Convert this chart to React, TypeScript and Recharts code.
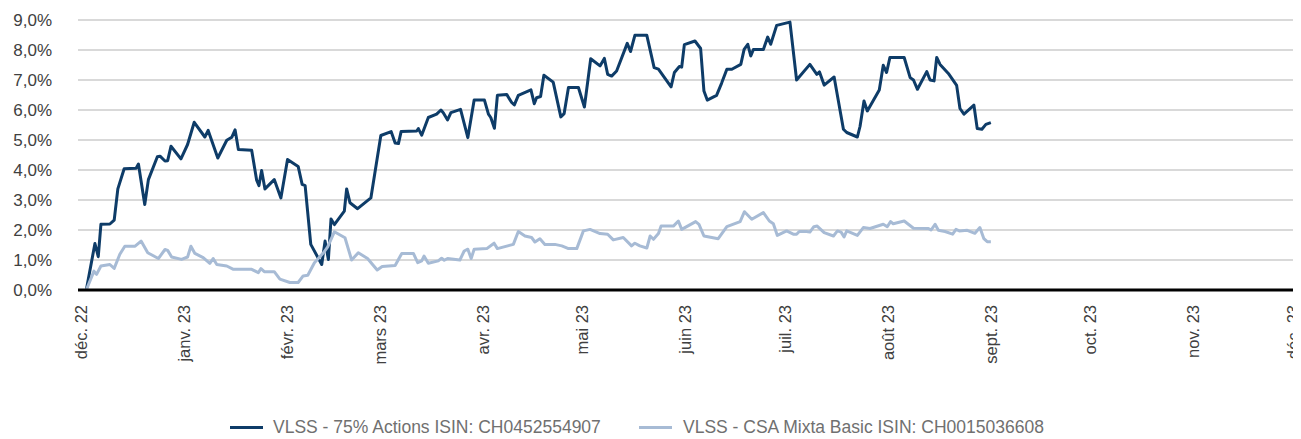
import React from 'react';
import { LineChart, Line, XAxis, YAxis, CartesianGrid, Legend } from 'recharts';

// days since 1 Dec 2022
const monthTicks = [0, 31, 62, 90, 121, 151, 182, 212, 243, 274, 304, 335, 365];
const monthLabels = ['déc. 22', 'janv. 23', 'févr. 23', 'mars 23', 'avr. 23', 'mai 23', 'juin 23', 'juil. 23', 'août 23', 'sept. 23', 'oct. 23', 'nov. 23', 'déc. 23'];
const yTicks = [0, 1, 2, 3, 4, 5, 6, 7, 8, 9];

const seriesNames = ['VLSS - 75% Actions ISIN: CH0452554907', 'VLSS - CSA Mixta Basic ISIN: CH0015036608'];

const actionsDays = [
  1.3, 3.9, 4.9, 5.7, 8.4, 9.7, 10.8, 12.7, 16.3, 17.0,
  18.9, 20.0, 22.7, 23.5, 25.0, 25.8, 26.8, 29.8, 31.8, 33.8,
  37.0, 38.0, 40.9, 43.6, 45.1, 46.1, 47.1, 51.1, 52.6, 53.3,
  54.1, 55.1, 57.9, 59.9, 61.9, 65.1, 66.3, 67.2, 68.9, 72.2,
  73.2, 74.2, 75.0, 76.0, 79.0, 79.7, 80.7, 83.0, 87.0, 90.0,
  93.1, 94.3, 95.3, 96.1, 100.8, 101.3, 102.3, 104.3, 106.8, 108.1,
  108.8, 110.1, 111.1, 114.0, 116.2, 118.1, 121.2, 122.4, 123.1, 124.2,
  125.1, 127.9, 129.4, 130.2, 131.4, 135.2, 136.2, 136.9, 138.1, 139.1,
  141.9, 144.2, 145.2, 146.5, 149.5, 151.3, 153.2, 156.0, 157.3, 158.3,
  159.5, 161.0, 164.2, 165.2, 166.5, 170.1, 172.3, 173.6, 177.4, 178.4,
  179.9, 180.6, 181.4, 184.6, 186.3, 187.3, 188.3, 191.1, 192.6, 194.2,
  195.7, 198.4, 199.4, 200.5, 201.4, 202.2, 205.2, 206.5, 207.4, 209.2,
  213.2, 215.2, 219.2, 221.3, 222.1, 223.5, 226.5, 229.3, 230.3, 233.5,
  234.3, 235.5, 236.5, 240.1, 241.3, 242.3, 243.3, 247.6, 249.4, 250.4,
  251.6, 254.4, 255.4, 256.6, 257.4, 258.4, 260.9, 263.4, 264.4, 265.6,
  268.6, 269.6, 271.0, 272.2, 273.7,
];
const actionsValues = [
  0, 1.55, 1.11, 2.19, 2.2, 2.33, 3.37, 4.04, 4.06, 4.2,
  2.85, 3.68, 4.44, 4.46, 4.3, 4.31, 4.79, 4.37, 4.85, 5.59,
  5.1, 5.32, 4.4, 4.99, 5.09, 5.34, 4.68, 4.66, 3.66, 3.48,
  3.98, 3.37, 3.68, 3.07, 4.35, 4.12, 3.52, 3.48, 1.52, 0.85,
  1.63, 1.02, 2.37, 2.18, 2.63, 3.37, 2.91, 2.71, 3.07, 5.15,
  5.28, 4.9, 4.88, 5.28, 5.3, 5.38, 5.16, 5.75, 5.86, 6.0,
  5.91, 5.67, 5.91, 6.02, 5.08, 6.33, 6.33, 5.86, 5.75, 5.39,
  6.49, 6.52, 6.25, 6.17, 6.49, 6.67, 6.21, 6.41, 6.45, 7.16,
  6.93, 5.77, 5.88, 6.75, 6.75, 6.1, 7.71, 7.47, 7.72, 7.19,
  7.13, 7.3, 8.22, 7.95, 8.49, 8.49, 7.41, 7.36, 6.77, 7.25,
  7.45, 7.43, 8.18, 8.3, 8.05, 6.63, 6.33, 6.49, 6.89, 7.36,
  7.36, 7.52, 8.02, 8.19, 7.8, 8.02, 8.02, 8.43, 8.19, 8.82,
  8.93, 7.0, 7.52, 7.19, 7.27, 6.83, 7.1, 5.36, 5.25, 5.1,
  5.45, 6.3, 5.97, 6.67, 7.49, 7.25, 7.75, 7.75, 7.08, 7.0,
  6.69, 7.28, 7.0, 6.97, 7.75, 7.52, 7.22, 6.82, 6.05, 5.86,
  6.16, 5.38, 5.36, 5.52, 5.58,
];

const mixtaDays = [
  1.3, 3.6, 4.4, 5.7, 8.4, 9.7, 11.4, 12.9, 16.0, 17.8,
  19.8, 23.0, 25.0, 25.8, 27.0, 30.0, 31.8, 32.8, 34.0, 36.5,
  38.5, 39.5, 40.6, 43.6, 45.6, 51.1, 53.1, 53.9, 54.9, 57.9,
  59.6, 62.6, 65.1, 66.6, 68.0, 70.0, 72.7, 74.0, 76.0, 79.2,
  81.2, 83.2, 86.0, 87.5, 88.9, 90.4, 94.3, 96.3, 99.8, 101.1,
  102.3, 103.0, 104.3, 107.3, 108.3, 109.1, 110.1, 113.8, 115.1, 116.2,
  117.2, 118.1, 121.9, 124.1, 125.1, 129.9, 131.4, 133.4, 135.4, 136.4,
  137.9, 139.4, 142.4, 144.5, 146.5, 149.0, 151.0, 153.0, 156.0, 158.3,
  160.0, 163.0, 165.5, 166.5, 168.0, 170.1, 171.1, 172.1, 173.6, 174.4,
  178.1, 179.6, 180.6, 184.8, 185.8, 187.3, 191.6, 194.2, 198.2, 199.5,
  201.7, 205.2, 207.0, 208.2, 209.4, 212.2, 214.2, 215.2, 216.0, 218.2,
  219.2, 220.4, 221.4, 223.5, 226.3, 227.5, 228.6, 229.5, 230.3, 233.5,
  235.3, 237.3, 241.3, 242.5, 243.5, 244.3, 247.6, 250.4, 254.9, 255.7,
  256.9, 257.9, 259.9, 262.2, 263.2, 264.2, 266.6, 268.9, 270.4, 271.6,
  272.6, 273.7,
];
const mixtaValues = [
  0, 0.63, 0.52, 0.8, 0.85, 0.72, 1.19, 1.46, 1.46, 1.63,
  1.24, 1.05, 1.35, 1.32, 1.1, 1.02, 1.1, 1.46, 1.22, 1.08,
  0.89, 1.05, 0.85, 0.8, 0.69, 0.69, 0.58, 0.71, 0.61, 0.61,
  0.36, 0.25, 0.25, 0.47, 0.49, 0.91, 1.24, 1.44, 1.94, 1.74,
  1.0, 1.24, 1.05, 0.85, 0.67, 0.78, 0.82, 1.22, 1.22, 0.91,
  0.97, 1.13, 0.89, 0.97, 1.06, 0.99, 1.05, 1.0, 1.3, 1.36,
  1.05, 1.36, 1.38, 1.56, 1.38, 1.52, 1.95, 1.8, 1.75, 1.6,
  1.71, 1.52, 1.52, 1.47, 1.38, 1.38, 1.97, 2.02, 1.88, 1.86,
  1.67, 1.75, 1.47, 1.56, 1.47, 1.4, 1.8, 1.69, 1.88, 2.13,
  2.13, 2.3, 2.02, 2.28, 2.19, 1.8, 1.71, 2.11, 2.28, 2.61,
  2.36, 2.58, 2.3, 2.21, 1.82, 1.97, 1.86, 1.86, 1.95, 1.95,
  1.93, 2.11, 2.13, 1.91, 1.8, 1.97, 1.93, 1.77, 1.97, 1.82,
  2.08, 2.05, 2.19, 2.11, 2.28, 2.21, 2.3, 2.06, 2.05, 2.0,
  2.19, 1.99, 1.95, 1.86, 2.02, 1.97, 1.99, 1.89, 2.08, 1.71,
  1.61, 1.61,
];

const DARK = '#0e3c68';
const LIGHT = '#a7bbd5';
const FONT = '"Liberation Sans", Arial, Helvetica, sans-serif';

const actionsData = actionsDays.map((d, i) => ({ d, v: actionsValues[i] }));
const mixtaData = mixtaDays.map((d, i) => ({ d, v: mixtaValues[i] }));

const labelFor = (v: number) => monthLabels[monthTicks.indexOf(v)] ?? '';

const XTick = (props: any) => {
  const { x, y, payload } = props;
  return (
    <text
      x={0}
      y={0}
      transform={`translate(${x},${y + 7}) rotate(-90)`}
      textAnchor="end"
      dy="0.3em"
      fill="#404040"
      fontSize={16.5}
      fontFamily={FONT}
    >
      {labelFor(payload.value)}
    </text>
  );
};

const LegendContent = () => (
  <div style={{ display: 'flex', alignItems: 'center', fontFamily: FONT, fontSize: 17.5, color: '#707070', whiteSpace: 'nowrap', height: 24 }}>
    <div style={{ display: 'flex', alignItems: 'center', width: 409 }}>
      <span style={{ display: 'inline-block', width: 33, height: 3, background: DARK, marginRight: 10 }} />
      <span>{seriesNames[0]}</span>
    </div>
    <div style={{ display: 'flex', alignItems: 'center' }}>
      <span style={{ display: 'inline-block', width: 33, height: 3, background: LIGHT, marginRight: 11 }} />
      <span>{seriesNames[1]}</span>
    </div>
  </div>
);

export default function App() {
  return (
    <div style={{ width: 1293, height: 431, fontFamily: FONT }}>
      <LineChart width={1293} height={431} margin={{ top: 12, right: 0, bottom: 59, left: 0 }} style={{ overflow: 'visible' }}>
        <CartesianGrid horizontal vertical={false} stroke="#d9d9d9" strokeWidth={2} />
        <XAxis
          type="number"
          dataKey="d"
          domain={[-1.2, 367.1]}
          ticks={monthTicks}
          allowDataOverflow
          interval={0}
          tick={<XTick />}
          tickLine={false}
          axisLine={{ stroke: '#000', strokeWidth: 3 }}
          height={90}
        />
        <YAxis
          type="number"
          domain={[0, 9]}
          ticks={yTicks}
          width={70}
          tickLine={false}
          axisLine={false}
          tickMargin={20}
          tick={{ fill: '#404040', fontSize: 17, fontFamily: FONT }}
          tickFormatter={(v: number) => v.toFixed(1).replace('.', ',') + '%'}
        />
        <Legend
          verticalAlign="middle"
          align="center"
          layout="horizontal"
          wrapperStyle={{ top: 407, left: 222, width: 'auto', height: 24 }}
          content={<LegendContent />}
        />
        <Line data={actionsData} dataKey="v" name={seriesNames[0]} type="linear" stroke={DARK} strokeWidth={3} dot={false} isAnimationActive={false} strokeLinejoin="round" />
        <Line data={mixtaData} dataKey="v" name={seriesNames[1]} type="linear" stroke={LIGHT} strokeWidth={3} dot={false} isAnimationActive={false} strokeLinejoin="round" />
      </LineChart>
    </div>
  );
}
